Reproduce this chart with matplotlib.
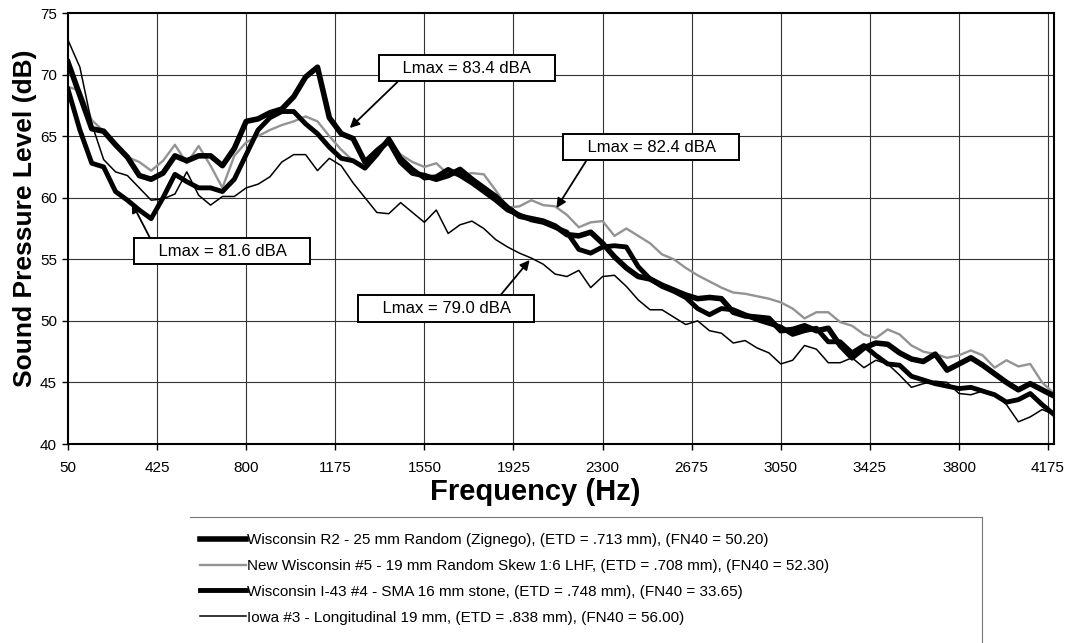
import numpy as np
import matplotlib
matplotlib.use('Agg')
import matplotlib.pyplot as plt
from matplotlib.lines import Line2D

plt.rcParams['font.family'] = ['Liberation Sans', 'DejaVu Sans']

# frequency bins (Hz), one value every 50 Hz
freq = np.arange(50, 4201, 50)

# sound pressure level (dB)
wis_r2 = [71.0, 68.3, 65.6, 65.4, 64.3, 63.3, 61.8, 61.5, 62.0, 63.4,
          63.0, 63.4, 63.4, 62.6, 64.0, 66.2, 66.4, 66.9, 67.2, 68.2,
          69.8, 70.6, 66.5, 65.2, 64.8, 62.9, 63.8, 64.6, 62.9, 62.0,
          61.8, 61.5, 61.8, 62.3, 61.5, 60.8, 60.1, 59.2, 58.5, 58.3,
          58.1, 57.7, 57.0, 56.9, 57.2, 56.3, 55.2, 54.3, 53.6, 53.4,
          52.9, 52.5, 52.1, 51.8, 51.9, 51.8, 50.7, 50.4, 50.3, 50.2,
          49.2, 49.3, 49.6, 49.2, 49.4, 48.0, 47.0, 47.8, 48.2, 48.1,
          47.4, 46.9, 46.7, 47.3, 46.0, 46.5, 47.0, 46.4, 45.7, 45.0,
          44.4, 44.9, 44.4, 43.9]
new_wis5 = [69.0, 68.7, 66.3, 65.4, 64.3, 63.3, 62.9, 62.2, 63.0, 64.3,
            62.8, 64.2, 62.6, 60.8, 63.4, 64.5, 65.0, 65.5, 65.9, 66.2,
            66.6, 66.2, 65.0, 63.9, 63.0, 62.6, 64.0, 64.6, 63.5, 62.9,
            62.5, 62.8, 61.9, 61.8, 62.0, 61.9, 60.6, 59.2, 59.3, 59.8,
            59.4, 59.3, 58.6, 57.6, 58.0, 58.1, 56.9, 57.5, 56.9, 56.3,
            55.4, 55.0, 54.3, 53.7, 53.2, 52.7, 52.3, 52.2, 52.0, 51.8,
            51.5, 51.0, 50.2, 50.7, 50.7, 49.9, 49.6, 48.9, 48.6, 49.3,
            48.9, 48.0, 47.5, 47.3, 47.0, 47.2, 47.6, 47.2, 46.2, 46.8,
            46.3, 46.5, 45.0, 44.1]
wis_i43 = [68.8, 65.5, 62.8, 62.5, 60.5, 59.8, 59.0, 58.3, 60.0, 61.9,
           61.3, 60.8, 60.8, 60.5, 61.5, 63.5, 65.5, 66.5, 67.0, 67.0,
           66.0, 65.2, 64.1, 63.2, 63.0, 62.4, 63.5, 64.8, 63.2, 62.3,
           61.6, 61.7, 62.3, 61.8, 61.2, 60.5, 59.8, 59.0, 58.6, 58.2,
           58.0, 57.6, 57.2, 55.8, 55.5, 56.0, 56.1, 56.0, 54.4, 53.4,
           52.8, 52.4, 51.9, 51.0, 50.5, 51.0, 50.9, 50.5, 50.1, 49.8,
           49.5, 48.9, 49.2, 49.4, 48.3, 48.3, 47.4, 48.0, 47.2, 46.5,
           46.4, 45.5, 45.2, 44.9, 44.7, 44.5, 44.6, 44.3, 44.0, 43.4,
           43.6, 44.1, 43.2, 42.4]
iowa3 = [72.8, 70.6, 66.0, 63.1, 62.1, 61.8, 60.8, 59.8, 59.9, 60.3,
         62.1, 60.2, 59.4, 60.1, 60.1, 60.8, 61.1, 61.7, 62.9, 63.5,
         63.5, 62.2, 63.2, 62.6, 61.2, 60.0, 58.8, 58.7, 59.6, 58.8,
         58.0, 59.0, 57.1, 57.8, 58.1, 57.5, 56.6, 56.0, 55.5, 55.1,
         54.6, 53.8, 53.6, 54.1, 52.7, 53.6, 53.7, 52.8, 51.7, 50.9,
         50.9, 50.3, 49.7, 50.0, 49.2, 49.0, 48.2, 48.4, 47.8, 47.4,
         46.5, 46.8, 48.0, 47.7, 46.6, 46.6, 47.0, 46.2, 46.8, 46.5,
         45.6, 44.6, 44.9, 45.1, 45.0, 44.1, 44.0, 44.3, 44.1, 43.2,
         41.8, 42.2, 42.8, 42.4]

labels = ['Wisconsin R2 - 25 mm Random (Zignego), (ETD = .713 mm), (FN40 = 50.20)',
          'New Wisconsin #5 - 19 mm Random Skew 1:6 LHF, (ETD = .708 mm), (FN40 = 52.30)',
          'Wisconsin I-43 #4 - SMA 16 mm stone, (ETD = .748 mm), (FN40 = 33.65)',
          'Iowa #3 - Longitudinal 19 mm, (ETD = .838 mm), (FN40 = 56.00)']

xtick_vals = [50, 425, 800, 1175, 1550, 1925, 2300, 2675, 3050, 3425, 3800, 4175]
ytick_vals = [40, 45, 50, 55, 60, 65, 70, 75]

# (text, arrow tip, text centre, arrow start on box)
notes = [('Lmax = 83.4 dBA', (1236, 65.66), (1728, 70.53), (0.12, 0.0)),
         ('Lmax = 82.4 dBA', (2106, 59.16), (2504, 64.11), (0.13, 0.0)),
         ('Lmax = 81.6 dBA', (319, 59.57), (698, 55.67), (0.08, 1.0)),
         ('Lmax = 79.0 dBA', (1993, 54.94), (1642, 51.00), (0.80, 1.0))]

W, H = 1072, 643
fig = plt.figure(figsize=(W / 100, H / 100), dpi=100)
ax = fig.add_axes([68 / W, 1 - 444 / H, (1054 - 68) / W, (444 - 13) / H])

ax.plot(freq, wis_r2, color='black', lw=4.0, label=labels[0], zorder=4)
ax.plot(freq, new_wis5, color='#939393', lw=1.7, label=labels[1], zorder=2)
ax.plot(freq, wis_i43, color='black', lw=3.5, label=labels[2], zorder=3)
ax.plot(freq, iowa3, color='black', lw=1.1, label=labels[3], zorder=3.5)

ax.set_xlim(50, 4200)
ax.set_ylim(40, 75)
ax.set_xticks(xtick_vals)
ax.set_xticklabels([str(v) for v in xtick_vals])
ax.set_yticks(ytick_vals)
ax.set_yticklabels([str(v) for v in ytick_vals])

for v in xtick_vals[1:]:
    ax.axvline(v, color='#333333', lw=0.8, zorder=1)
for v in ytick_vals[1:-1]:
    ax.axhline(v, color='#333333', lw=0.8, zorder=1)

for s in ax.spines.values():
    s.set_linewidth(1.5)
ax.tick_params(axis='both', direction='out', length=4, width=1, labelsize=11)
ax.tick_params(axis='x', pad=8)
ax.tick_params(axis='y', pad=4)

ax.set_xlabel('Frequency (Hz)', fontsize=21, fontweight='bold')
ax.xaxis.set_label_coords((535 - 68) / 986, -0.079)
ax.set_ylabel('Sound Pressure Level (dB)', fontsize=19, fontweight='bold')
ax.yaxis.set_label_coords(-0.031, 0.524)

for text, tip, pos, rel in notes:
    ax.annotate('    ' + text + '    ', xy=tip, xytext=pos, ha='center', va='center',
                fontsize=12, zorder=6,
                bbox=dict(boxstyle='square,pad=0.35', fc='white', ec='black', lw=1.4),
                arrowprops=dict(arrowstyle='-|>', color='black', lw=1.3,
                                mutation_scale=14, relpos=rel, shrinkA=0, shrinkB=0))

leg = ax.legend(loc='upper left', bbox_to_anchor=(200 / W, 1 - 533 / H),
                bbox_transform=fig.transFigure, frameon=False, fontsize=11,
                handlelength=3.0, handletextpad=0.1, labelspacing=0.78,
                borderpad=0, borderaxespad=0)

# legend frame (top and right edges are the only parts visible)
fig.add_artist(Line2D([190 / W, 982 / W], [1 - 517 / H, 1 - 517 / H],
                      color='#777777', lw=0.8))
fig.add_artist(Line2D([982 / W, 982 / W], [1 - 517 / H, 0], color='#777777', lw=0.8))

fig.savefig('out.png', dpi=100)
